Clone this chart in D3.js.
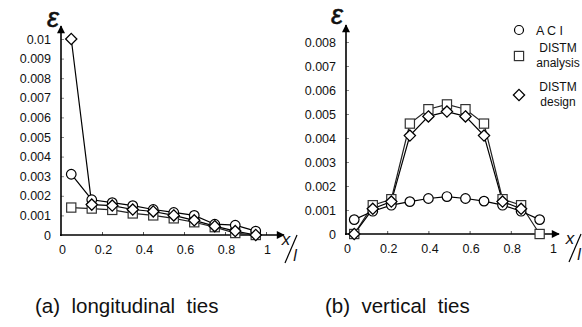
<!DOCTYPE html>
<html>
<head>
<meta charset="utf-8">
<script src="https://cdn.jsdelivr.net/npm/d3@7"></script>
<style>
  body { margin: 0; background: #fff; }
  svg { display: block; }
  text { font-family: "Liberation Sans", Arial, sans-serif; fill: #111; }
</style>
</head>
<body>
<svg id="chart" width="582" height="327"></svg>
<script>
// (a) longitudinal ties
const xA = [0.05, 0.15, 0.25, 0.35, 0.45, 0.55, 0.65, 0.75, 0.85, 0.95]
const aciA = [0.0031, 0.0018, 0.00165, 0.0015, 0.0013, 0.00115, 0.001, 0.00055, 0.0005, 0.0002]
const anaA = [0.0014, 0.00135, 0.00128, 0.0011, 0.001, 0.00085, 0.00065, 0.0004, 0.0001, 0]
const desA = [0.01, 0.00155, 0.0015, 0.0013, 0.0012, 0.001, 0.00075, 0.00045, 0.0002, 0]

// (b) vertical ties
const xB = [0.04, 0.13, 0.22, 0.31, 0.40, 0.49, 0.58, 0.67, 0.76, 0.85, 0.94]
const aciB = [0.0006, 0.00095, 0.0012, 0.00135, 0.00148, 0.00156, 0.00148, 0.00137, 0.0012, 0.00095, 0.0006]
const anaB = [0, 0.0012, 0.00145, 0.0046, 0.0052, 0.0054, 0.0052, 0.0046, 0.00145, 0.0012, 0]
const desB = [0, 0.00105, 0.00135, 0.0041, 0.0049, 0.0051, 0.0049, 0.0041, 0.00135, 0.00105, null]

const xTicks = [0, 0.2, 0.4, 0.6, 0.8, 1]
const yTicksA = [0, 0.001, 0.002, 0.003, 0.004, 0.005, 0.006, 0.007, 0.008, 0.009, 0.01]
const yTicksB = [0, 0.001, 0.002, 0.003, 0.004, 0.005, 0.006, 0.007, 0.008]

const legendLabels = [['A C I'], ['DISTM', 'analysis'], ['DISTM', 'design']]
const captions = ['(a)  longitudinal  ties', '(b)  vertical  ties']

const svg = d3.select('#chart')

// 矢印
const defs = svg.append('defs')
defs.append('marker')
  .attr('id', 'arrow')
  .attr('viewBox', '0 -5 10 10')
  .attr('refX', 9)
  .attr('refY', 0)
  .attr('markerWidth', 9)
  .attr('markerHeight', 8)
  .attr('markerUnits', 'userSpaceOnUse')
  .attr('orient', 'auto')
  .append('path')
  .attr('d', 'M0,-5L10,0L0,5Z')
  .attr('fill', '#000')

function drawMarker(sel, kind) {
  if (kind === 'circle') {
    sel.append('circle').attr('r', 4.8)
      .attr('fill', '#fff').attr('stroke', '#000').attr('stroke-width', 1.2)
  } else if (kind === 'square') {
    sel.append('rect').attr('x', -4.6).attr('y', -4.6).attr('width', 9.2).attr('height', 9.2)
      .attr('fill', '#fff').attr('stroke', '#333').attr('stroke-width', 1.2)
  } else {
    sel.append('path').attr('d', 'M0,-5.6L5.6,0L0,5.6L-5.6,0Z')
      .attr('fill', '#fff').attr('stroke', '#000').attr('stroke-width', 1.3)
  }
}

function panel(opts) {
  const { xs, series, yTicks, xRange, yRange, yMax, epsX, epsY, arrowX, arrowY, xlX } = opts
  const x = d3.scaleLinear().domain([0, 1]).range(xRange)
  const y = d3.scaleLinear().domain([0, yMax]).range(yRange)
  const g = svg.append('g')

  // 軸目盛
  const yAxis = d3.axisLeft(y).tickValues(yTicks).tickSizeInner(-3).tickSizeOuter(0)
    .tickPadding(10).tickFormat(d3.format('~g'))
  const ya = g.append('g').attr('transform', `translate(${xRange[0]},0)`).call(yAxis)
  ya.select('.domain').remove()
  ya.selectAll('line').attr('stroke', '#888')
  ya.selectAll('text').attr('font-size', 12.5).attr('fill', '#111')
  ya.selectAll('.tick').filter(d => d === 0).select('line').remove()

  const xAxis = d3.axisBottom(x).tickValues(xTicks).tickSizeInner(-3).tickSizeOuter(0)
    .tickPadding(10).tickFormat(d3.format('~g'))
  const xa = g.append('g').attr('transform', `translate(0,${yRange[0]})`).call(xAxis)
  xa.select('.domain').remove()
  xa.selectAll('line').attr('stroke', '#555')
  xa.selectAll('text').attr('font-size', 12.5).attr('fill', '#111').attr('dx', 1)
  xa.selectAll('.tick').filter(d => d === 0).select('line').remove()

  // 軸線
  g.append('line')
    .attr('x1', xRange[0]).attr('y1', yRange[0] + 1)
    .attr('x2', xRange[0]).attr('y2', arrowY)
    .attr('stroke', '#000').attr('stroke-width', 1.6).attr('marker-end', 'url(#arrow)')
  g.append('line')
    .attr('x1', xRange[0] - 1).attr('y1', yRange[0])
    .attr('x2', arrowX).attr('y2', yRange[0])
    .attr('stroke', '#000').attr('stroke-width', 1.6).attr('marker-end', 'url(#arrow)')

  // ε
  g.append('text').attr('x', epsX).attr('y', epsY)
    .attr('font-family', '"Liberation Serif", "DejaVu Serif", serif')
    .attr('font-style', 'italic')
    .attr('font-size', 27).attr('text-anchor', 'middle')
    .attr('stroke', '#111').attr('stroke-width', 0.5)
    .text('ε')

  // x/l
  const xl = g.append('g').attr('transform', `translate(${xlX},${yRange[0]})`)
  xl.append('text').attr('x', -4).attr('y', 10)
    .attr('font-family', '"Liberation Serif", serif').attr('font-style', 'italic')
    .attr('font-size', 17).attr('text-anchor', 'middle').text('x')
  xl.append('line').attr('x1', 7).attr('y1', 0).attr('x2', -5).attr('y2', 28)
    .attr('stroke', '#000').attr('stroke-width', 1.2)
  xl.append('text').attr('x', 5).attr('y', 26)
    .attr('font-family', '"Liberation Serif", serif').attr('font-style', 'italic')
    .attr('font-size', 16).attr('text-anchor', 'middle').text('l')

  // 系列
  const line = d3.line()
    .defined(d => d[1] !== null)
    .x(d => x(d[0]))
    .y(d => y(d[1]))
  series.forEach(s => {
    const pts = xs.map((v, i) => [v, s.values[i]])
    g.append('path').datum(pts)
      .attr('d', line)
      .attr('fill', 'none')
      .attr('stroke', s.kind === 'square' ? '#222' : '#000')
      .attr('stroke-width', 1.2)
  })
  series.forEach(s => {
    const pts = xs.map((v, i) => [v, s.values[i]]).filter(d => d[1] !== null)
    g.append('g').selectAll('g')
      .data(pts)
      .enter()
      .append('g')
      .attr('transform', d => `translate(${x(d[0])},${y(d[1])})`)
      .each(function () { drawMarker(d3.select(this), s.kind) })
  })
}

panel({
  xs: xA,
  series: [
    { kind: 'square', values: anaA },
    { kind: 'circle', values: aciA },
    { kind: 'diamond', values: desA }
  ],
  yTicks: yTicksA,
  xRange: [61, 266],
  yRange: [235, 39],
  yMax: 0.01,
  epsX: 53, epsY: 27,
  arrowX: 284, arrowY: 26,
  xlX: 290
})

panel({
  xs: xB,
  series: [
    { kind: 'square', values: anaB },
    { kind: 'circle', values: aciB },
    { kind: 'diamond', values: desB }
  ],
  yTicks: yTicksB,
  xRange: [346, 552],
  yRange: [234, 42],
  yMax: 0.008,
  epsX: 337, epsY: 24,
  arrowX: 559, arrowY: 25,
  xlX: 574
})

// 凡例
const legend = svg.append('g')
const legendY = [30, 56, 95]
const kinds = ['circle', 'square', 'diamond']
kinds.forEach((k, i) => {
  const item = legend.append('g').attr('transform', `translate(519,${legendY[i]})`)
  drawMarker(item, k)
  item.select('circle').attr('r', 4.5)
  const lab = legendLabels[i]
  if (lab.length === 1) {
    item.append('text').attr('x', 17).attr('y', 4.5)
      .attr('font-size', 12.5).text(lab[0])
  } else {
    lab.forEach((t, j) => {
      item.append('text').attr('x', 39).attr('y', -4 + j * 15)
        .attr('font-size', 12).attr('text-anchor', 'middle').text(t)
    })
  }
})

// キャプション
svg.selectAll('.caption')
  .data(captions)
  .enter()
  .append('text')
  .attr('class', 'caption')
  .attr('x', (d, i) => (i === 0 ? 35 : 325))
  .attr('y', 313)
  .attr('font-size', 20.5)
  .attr('xml:space', 'preserve')
  .style('white-space', 'pre')
  .text(d => d)
</script>
</body>
</html>
